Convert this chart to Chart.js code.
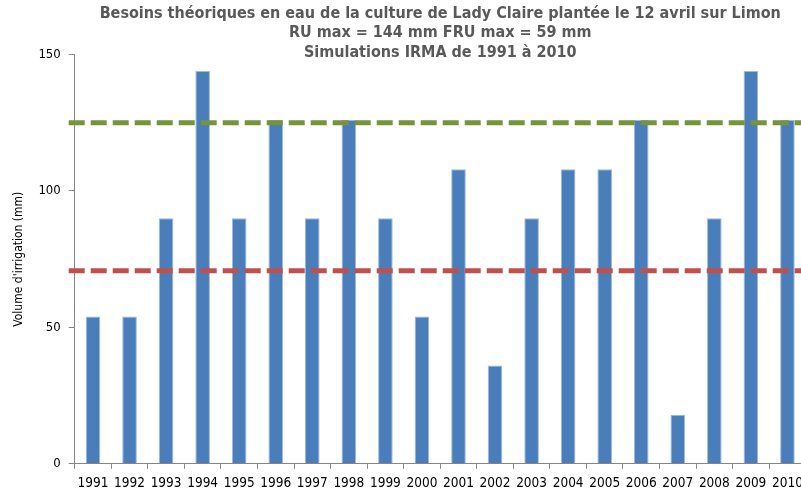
<!DOCTYPE html>
<html>
<head>
<meta charset="utf-8">
<script src="https://cdn.jsdelivr.net/npm/chart.js@4"></script>
<style>
  body { margin: 0; overflow: hidden; background: #fff; }
  #wrap { width: 810px; height: 492px; }
</style>
</head>
<body>
<div id="wrap"><canvas id="canvas"></canvas></div>
<script>
const years = ['1991', '1992', '1993', '1994', '1995', '1996', '1997', '1998', '1999', '2000',
    '2001', '2002', '2003', '2004', '2005', '2006', '2007', '2008', '2009', '2010']
const besoins = [54, 54, 90, 144, 90, 126, 90, 126, 90, 54, 108, 36, 90, 108, 108, 126, 18, 90, 144, 126]
const yTicks = [0, 50, 100, 150]
const seuilHaut = 125
const seuilBas = 70.8

const titleLines = [
    'Besoins théoriques en eau de la culture de Lady Claire plantée le 12 avril sur Limon',
    'RU max = 144 mm FRU max = 59 mm',
    'Simulations IRMA de 1991 à 2010'
]

// lignes horizontales en pointillés, tracées sur l'échelle y
const seuils = {
    id: 'seuils',
    afterDatasetsDraw(chart) {
        const { ctx, chartArea, scales } = chart
        const lines = [
            { v: seuilHaut, color: '#77933C' },
            { v: seuilBas, color: '#C0504D' }
        ]
        ctx.save()
        ctx.lineWidth = 5
        ctx.setLineDash([16, 6])
        lines.forEach(l => {
            const y = scales.y.getPixelForValue(l.v)
            ctx.strokeStyle = l.color
            ctx.beginPath()
            ctx.moveTo(chartArea.left - 6, y)
            ctx.lineTo(chartArea.right, y)
            ctx.stroke()
        })
        ctx.restore()
    }
}

const data = {
    labels: years,
    datasets: [
        {
            label: 'Besoins',
            backgroundColor: '#4A7EBB',
            borderColor: '#9db9dc',
            borderWidth: { left: 1, right: 1, top: 1, bottom: 0 },
            data: besoins,
            barPercentage: 0.4,
            categoryPercentage: 1,
        }
    ]
}

const config = {
    type: 'bar',
    data: data,
    plugins: [seuils],
    options: {
        responsive: true,
        maintainAspectRatio: false,
        animation: false,
        layout: { padding: { left: 12, right: 2, top: 0, bottom: -7 } },
        plugins: {
            legend: { display: false },
            tooltip: { enabled: false },
            title: {
                display: true,
                text: titleLines,
                fullSize: false,
                color: '#595959',
                font: { family: 'DejaVu Sans Condensed', size: 16, weight: 'bold', lineHeight: 1.22 },
                padding: { top: 4, bottom: -8 }
            }
        },
        scales: {
            x: {
                grid: {
                    drawOnChartArea: false,
                    drawTicks: true,
                    tickLength: 5,
                    color: '#868686'
                },
                border: { display: true, color: '#868686', width: 1 },
                ticks: {
                    color: '#000',
                    font: { family: 'DejaVu Sans Condensed', size: 13.5 },
                    maxRotation: 0,
                    autoSkip: false,
                    padding: 7
                }
            },
            y: {
                min: 0,
                max: 150,
                afterBuildTicks(axis) {
                    axis.ticks = yTicks.map(v => ({ value: v }))
                },
                grid: {
                    drawOnChartArea: false,
                    drawTicks: true,
                    tickLength: 6,
                    color: '#868686'
                },
                border: { display: true, color: '#868686', width: 1 },
                ticks: {
                    color: '#000',
                    font: { family: 'DejaVu Sans Condensed', size: 13 },
                    padding: 8
                },
                title: {
                    display: true,
                    text: "Volume d'irrigation (mm)",
                    color: '#000',
                    font: { family: 'DejaVu Sans Condensed', size: 12 },
                    padding: { top: 0, bottom: 4 }
                }
            }
        }
    }
}
const canvas = document.getElementById('canvas')
const chart = new Chart(canvas, config)
</script>
</body>
</html>
